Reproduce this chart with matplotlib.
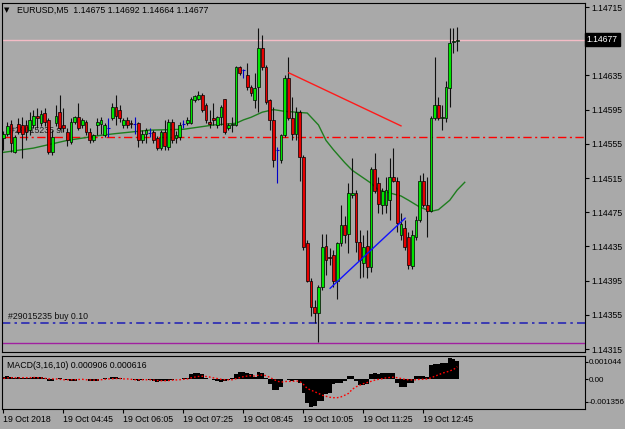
import matplotlib
matplotlib.use('Agg')
import matplotlib.pyplot as plt
import numpy as np
from matplotlib.transforms import blended_transform_factory

plt.rcParams['font.family'] = ['Liberation Sans', 'DejaVu Sans']

# ---------------- data ----------------
header = "EURUSD,M5  1.14675 1.14692 1.14664 1.14677"
macd_header = "MACD(3,16,10) 0.000906 0.000616"

open_pts = [114562,114567,114578,114546,114578,114577,114577,114571,114577,114588,
            114579,114591,114583,114545,114579,114592,114577,114569,114557,114580,
            114586,114577,114580,114569,114559,114577,114578,114565,114573,114585,
            114598,114594,114577,114583,114579,114578,114579,114559,114567,114568,
            114569,114562,114550,114569,114551,114581,114562,114563,114578,114579,
            114579,114606,114608,114612,114600,114580,114585,114577,114586,114608,
            114573,114577,114577,114645,114641,114636,114621,114606,114621,114667,
            114645,114606,114583,114548,114536,114565,114632,114585,114567,114592,
            114539,114439,114395,114364,114357,114387,114436,114423,114425,114395,
            114439,114460,114450,114495,114497,114440,114416,114436,114411,114525,
            114509,114484,114483,114489,114516,114512,114448,114456,114446,114412,
            114446,114466,114511,114484,114476,114585,114600,114585,114585,114620,
            114674,114675]
high_pts = [114570,114580,114583,114565,114585,114586,114583,114592,114594,114597,
            114594,114597,114585,114571,114600,114612,114597,114573,114585,114588,
            114603,114585,114583,114573,114567,114585,114586,114579,114585,114603,
            114612,114600,114585,114586,114583,114586,114581,114571,114574,114573,
            114571,114564,114571,114583,114584,114584,114570,114581,114583,114586,
            114610,114612,114617,114614,114603,114594,114603,114588,114600,114608,
            114579,114586,114646,114646,114643,114649,114624,114638,114690,114682,
            114647,114608,114598,114551,114567,114635,114656,114610,114598,114594,
            114542,114442,114398,114372,114390,114450,114450,114433,114431,114440,
            114483,114471,114509,114538,114501,114454,114448,114454,114528,114544,
            114516,114503,114516,114538,114550,114516,114474,114466,114452,114454,
            114471,114518,114521,114516,114588,114656,114610,114600,114629,114691,
            114691,114692]
low_pts = [114548,114564,114545,114544,114566,114538,114559,114565,114573,114573,
           114576,114576,114543,114542,114576,114571,114569,114553,114555,114578,
           114571,114573,114565,114556,114557,114565,114567,114563,114563,114583,
           114577,114581,114574,114573,114574,114567,114551,114556,114556,114563,
           114556,114548,114548,114548,114548,114556,114556,114560,114574,114577,
           114578,114604,114606,114592,114579,114574,114577,114574,114577,114567,
           114571,114569,114576,114635,114632,114618,114611,114597,114592,114641,
           114601,114571,114528,114509,114533,114563,114583,114559,114559,114512,
           114431,114393,114354,114346,114323,114384,114401,114413,114387,114374,
           114436,114439,114427,114492,114428,114398,114399,114398,114405,114497,
           114474,114473,114474,114466,114510,114452,114442,114431,114409,114409,
           114442,114463,114481,114446,114475,114583,114583,114571,114580,114598,
           114661,114664]
close_pts = [114567,114576,114556,114563,114569,114567,114569,114583,114588,114585,
             114590,114580,114545,114563,114588,114573,114573,114559,114580,114586,
             114574,114583,114569,114559,114565,114580,114583,114577,114573,114598,
             114588,114585,114583,114577,114578,114578,114559,114567,114571,114568,
             114559,114550,114569,114552,114581,114559,114565,114577,114578,114583,
             114607,114611,114612,114594,114583,114578,114583,114586,114598,114569,
             114577,114578,114645,114638,114641,114621,114614,114620,114667,114645,
             114604,114583,114536,114548,114565,114632,114585,114567,114592,114539,
             114434,114395,114364,114357,114387,114434,114419,114421,114395,114439,
             114460,114448,114497,114497,114440,114419,114434,114411,114525,114500,
             114485,114500,114501,114516,114512,114462,114461,114434,114413,114448,
             114466,114512,114483,114477,114585,114600,114585,114586,114621,114673,
             114675,114677]

ma_bars = [0, 8, 17, 26, 30, 39, 48, 56, 62, 64, 66, 69, 72, 75, 78, 81, 84, 86, 88,
           91, 93, 95, 98, 100, 106, 108, 111, 114, 116, 119, 121, 123]
ma_pts = [114545, 114550, 114559, 114565, 114567, 114571, 114572, 114577, 114579,
          114583, 114586, 114592, 114595, 114593, 114592, 114591, 114577, 114559,
          114548, 114533, 114524, 114518, 114509, 114501, 114494, 114489, 114481,
          114476, 114478, 114489, 114501, 114510]

macd_main = [0.00012, 0.00016, 0.0001, 0.00008, 0.0001, 0.00008, 0.00007, 0.00008, 0.00011, 0.00012,
             0.0001, 0.00007, -0.00008, -0.0001, 0.00002, 0.00004, 0.00002, -0.00005, -0.00008, -0.00007,
             0.00002, 0.0, 0.00001, -0.00008, -0.0001, -0.00008, 0.00002, 0.00004, 0.00002, 0.0001,
             0.0001, 0.00004, 0.00002, 0.0, 0.00002, -0.00005, -0.00007, -0.00004, 0.0, -0.00002,
             -0.00008, -0.00012, -0.0001, -0.0001, -0.00007, -0.00002, 0.0, 0.00002, 0.00004, 0.00008,
             0.00025, 0.0003, 0.0003, 0.00025, 0.00008, 0.0, -0.00002, -0.00008, -0.00012, -0.0001,
             -0.00004, 0.00004, 0.00025, 0.00034, 0.00034, 0.0003, 0.00025, 0.00012, 0.00034, 0.0003,
             0.00008, -0.00025, -0.0005, -0.0005, -0.00037, 0.0, -0.00004, -0.00008, -0.00004, -0.00016,
             -0.00065, -0.00115, -0.001356, -0.0013, -0.00108, -0.00105, -0.0007, -0.00066, -0.00025, -0.00018,
             -0.00016, -0.00008, 0.00015, 0.00015, -0.00008, -0.0003, -0.0003, -0.00025, 0.00025, 0.0003,
             0.00025, 0.0003, 0.0003, 0.00033, 0.0003, -0.00016, -0.0004, -0.0004, -0.0002, -0.0002,
             0.00015, 0.00015, 0.00015, 0.00012, 0.00072, 0.00076, 0.00076, 0.0008, 0.00082, 0.001044,
             0.001, 0.000906]
macd_signal = [0.00004, 0.00007, 0.00008, 0.00008, 0.00007, 0.00008, 0.00008, 0.00008, 0.00009, 0.00008,
               0.00007, 0.00005, 0.00002, 0.00002, 0.00002, 0.0, -0.00002, -0.00002, -0.00002, -0.00002,
               -0.00001, 0.0, -0.00002, -0.00003, -0.00004, -0.00003, -0.00002, 0.0, 0.00002, 0.00003,
               0.00004, 0.00004, 0.00002, 0.00002, 0.0, -0.00002, -0.00002, -0.00002, -0.00002, -0.00002,
               -0.00004, -0.00006, -0.00007, -0.00007, -0.00006, -0.00004, -0.00003, -0.00002, 0.0, 0.00002,
               0.00007, 0.00011, 0.00014, 0.00015, 0.00014, 0.00011, 0.00007, 0.00004, 0.0, -0.00002,
               -0.00002, -0.00002, 0.00003, 0.00008, 0.00013, 0.00016, 0.00018, 0.00016, 0.0002, 0.00021,
               0.00018, 0.0001, 0.0, -0.00009, -0.00014, -0.00011, -0.0001, -0.0001, -0.00008, -0.0001,
               -0.00025, -0.00045, -0.00053, -0.00061, -0.00069, -0.00078, -0.00083, -0.00088, -0.0009, -0.0009,
               -0.00086, -0.00078, -0.00069, -0.00049, -0.00037, -0.00029, -0.00021, -0.00016, -0.0001, -0.00004,
               0.0, 0.00003, 0.00007, 0.00009, 0.0001, 0.00008, 0.00004, 0.0, -0.00002, -0.00003,
               -0.00002, 0.0, 0.0, 0.00002, 0.00007, 0.00015, 0.00022, 0.0003, 0.00035, 0.00041,
               0.00048, 0.000616]

bid_price = 1.14677
sl_price = 1.14563
order_price = 1.14345
purple_price = 1.14322
order_label = "#29015235 buy 0.10"
sl_label = "#29015235 sl"

red_trend_bars = [76.1, 106.0]
red_trend_prices = [1.14638, 1.14576]
blue_trend_bars = [87.1, 107.1]
blue_trend_prices = [1.14386, 1.14468]

price_ticks = [1.14315, 1.14355, 1.14395, 1.14435, 1.14475, 1.14515,
               1.14555, 1.14595, 1.14635, 1.14675, 1.14715]
hidden_price_label = 1.14675   # covered by the current-price box
time_tick_bars = [0, 16, 32, 48, 64, 80, 96, 112]
time_labels = ["19 Oct 2018", "19 Oct 04:45", "19 Oct 06:05", "19 Oct 07:25",
               "19 Oct 08:45", "19 Oct 10:05", "19 Oct 11:25", "19 Oct 12:45"]
macd_tick_vals = [0.00085, 0.0, -0.00111]
macd_tick_labels = ["0.001044", "0.00", "-0.001356"]

# ---------------- drawing ----------------
o = np.array(open_pts) / 1e5
h = np.array(high_pts) / 1e5
l = np.array(low_pts) / 1e5
c = np.array(close_pts) / 1e5
n = len(o)
x = np.arange(n)

W, H = 625, 429
bg = '#A9A9A9'
fig = plt.figure(figsize=(W / 100, H / 100), dpi=100)
fig.patch.set_facecolor(bg)

ax = fig.add_axes([2 / W, 1 - 352 / H, 583 / W, 349 / H])
ax.set_facecolor(bg)
ax.set_xlim(-0.4, 155.07)
ax.set_ylim(1.143115, 1.147197)

up = c > o
dn = c < o
dj = c == o

# horizontal lines
ax.axhline(bid_price, color='#F4BCC6', lw=1.0, zorder=1)
ax.axhline(sl_price, color='#FF0000', lw=1.0, dashes=(6, 2.5, 1.5, 2.5), zorder=1)
ax.axhline(order_price, color='#2828B4', lw=1.2, dashes=(5, 2.5, 1.5, 2.5), zorder=1)
ax.axhline(purple_price, color='#A020A0', lw=1.0, zorder=1)

tr = blended_transform_factory(ax.transAxes, ax.transData)
ax.text(8 / 583, sl_price + 0.00002, sl_label, transform=tr, fontsize=6.3,
        color='#202020', va='bottom', ha='left', zorder=1)
ax.text(6 / 583, order_price + 0.00003, order_label, transform=tr, fontsize=6.3,
        color='#101010', va='bottom', ha='left', zorder=1)

# MA
ax.plot(ma_bars, np.array(ma_pts) / 1e5, color='#1E7D1E', lw=1.0, zorder=2)

# candles
wick_cols = np.where(dj, '#0000C8', '#101010')
ax.vlines(x, l, h, colors=list(wick_cols), lw=0.8, zorder=3)
bw = 0.72
ax.bar(x[up], (c - o)[up], bottom=o[up], width=bw, color='#00E600',
       edgecolor='black', lw=0.5, zorder=4)
ax.bar(x[dn], (o - c)[dn], bottom=c[dn], width=bw, color='#E60000',
       edgecolor='black', lw=0.5, zorder=4)
ax.hlines(o[dj], x[dj] - bw / 2, x[dj] + bw / 2, colors='#0000C8', lw=0.8, zorder=4)

# trend lines
ax.plot(red_trend_bars, red_trend_prices, color='#FF1A1A', lw=1.0, zorder=5)
ax.plot(blue_trend_bars, blue_trend_prices, color='#1010FF', lw=1.0, zorder=5)

# axes styling
for s in ax.spines.values():
    s.set_color('black')
    s.set_linewidth(0.8)
ax.set_xticks([])
ax.yaxis.tick_right()
ax.set_yticks(price_ticks)
ax.set_yticklabels(["" if p == hidden_price_label else f"{p:.5f}" for p in price_ticks])
ax.tick_params(axis='y', direction='out', length=3, width=0.8, pad=1.5,
               labelsize=6.2, colors='black')

# current price box
ax.text(1.003, bid_price, f"{bid_price:.5f}", transform=tr, color='white',
        fontsize=6.2, va='center', ha='left', clip_on=False, zorder=10,
        bbox=dict(boxstyle='square,pad=0.25', fc='black', ec='black'))

# header
fig.text(4 / W, 1 - 10 / H, '\u25BC', family='DejaVu Sans', fontsize=5,
         va='center', ha='left', color='black')
fig.text(17 / W, 1 - 10 / H, header, fontsize=6.3, va='center', ha='left',
         color='black')

# MACD panel
ax2 = fig.add_axes([2 / W, 1 - 409 / H, 583 / W, 53 / H])
ax2.set_facecolor(bg)
ax2.set_xlim(-0.4, 155.07)
ax2.set_ylim(-0.001454, 0.001142)
ax2.bar(x, macd_main, width=1.0, color='black', lw=0, zorder=2)
ax2.plot(x, macd_signal, color='#FF0000', lw=1.0, dashes=(1.2, 1.5), zorder=3)
for s in ax2.spines.values():
    s.set_color('black')
    s.set_linewidth(0.8)
ax2.yaxis.tick_right()
ax2.set_yticks(macd_tick_vals)
ax2.set_yticklabels(macd_tick_labels)
ax2.tick_params(axis='y', direction='out', length=2, width=0.8, pad=0.8,
                labelsize=5.8, colors='black')
ax2.set_xticks(time_tick_bars)
ax2.set_xticklabels(time_labels, ha='left')
ax2.tick_params(axis='x', direction='out', length=3, width=0.8, pad=1.5,
                labelsize=6.3, colors='black')
fig.text(7 / W, 1 - 365 / H, macd_header, fontsize=6.3, va='center', ha='left',
         color='black')

fig.savefig('out.png', dpi=100, facecolor=bg)
